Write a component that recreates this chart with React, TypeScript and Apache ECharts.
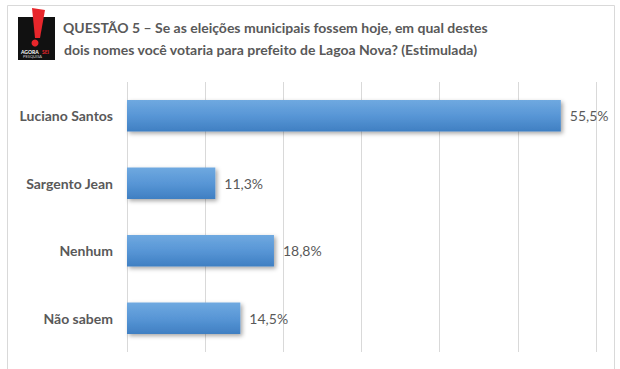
import React, { useEffect, useRef } from "react";
import * as echarts from "echarts";

const categories = ["Luciano Santos", "Sargento Jean", "Nenhum", "Não sabem"];
const values = [55.5, 11.3, 18.8, 14.5];
const valueLabels = ["55,5%", "11,3%", "18,8%", "14,5%"];
const titleLines = [
  "QUESTÃO 5 – Se as eleições municipais fossem hoje, em qual destes",
  "dois nomes você votaria para prefeito de Lagoa Nova? (Estimulada)",
];

export default function App() {
  const ref = useRef<HTMLDivElement>(null);
  useEffect(() => {
    const chart = echarts.init(ref.current!, null, { renderer: "svg" });
    const font = "Lato, 'Open Sans', sans-serif";
    chart.setOption({
      animation: false,
      backgroundColor: "#ffffff",
      grid: { left: 127, right: 24, top: 82, bottom: 17, containLabel: false },
      xAxis: {
        type: "value",
        min: 0,
        max: 60,
        interval: 10,
        axisLabel: { show: false },
        axisLine: { show: false },
        axisTick: { show: false },
        splitLine: { show: true, lineStyle: { color: "#d9d9d9", width: 1 } },
      },
      yAxis: {
        type: "category",
        inverse: true,
        data: categories,
        axisLine: { show: false },
        axisTick: { show: false },
        axisLabel: {
          color: "#595959",
          fontWeight: "bold",
          fontSize: 14,
          fontFamily: font,
          margin: 14,
        },
      },
      series: [
        {
          type: "bar",
          data: values,
          barWidth: "47%",
          itemStyle: {
            color: new echarts.graphic.LinearGradient(0, 0, 0, 1, [
              { offset: 0, color: "#6fa9e0" },
              { offset: 0.5, color: "#5896d6" },
              { offset: 1, color: "#3f7fc2" },
            ]),
            shadowColor: "rgba(0,0,0,0.35)",
            shadowBlur: 4,
            shadowOffsetX: 2,
            shadowOffsetY: 2,
          },
          label: {
            show: true,
            position: "right",
            distance: 9,
            color: "#595959",
            fontSize: 14,
            fontFamily: font,
            formatter: (p: any) => valueLabels[p.dataIndex],
          },
        },
      ],
      graphic: [
        {
          type: "rect",
          shape: { x: 7.5, y: 5.5, width: 607, height: 400 },
          style: { fill: "none", stroke: "#d9d9d9", lineWidth: 1 },
          silent: true,
        },
        {
          type: "rect",
          shape: { x: 18, y: 17, width: 37, height: 43 },
          style: { fill: "#111111" },
        },
        {
          type: "polygon",
          shape: { points: [[32, 8], [45, 10], [40, 38], [35, 38]] },
          style: { fill: "#e8262b" },
        },
        {
          type: "circle",
          shape: { cx: 35, cy: 43, r: 3.5 },
          style: { fill: "#e8262b" },
        },
        {
          type: "text",
          style: { text: "AGORA", x: 21, y: 49, fill: "#ffffff", fontSize: 5, fontWeight: "bold", fontFamily: font },
        },
        {
          type: "text",
          style: { text: "SEI", x: 42, y: 49, fill: "#e8262b", fontSize: 5, fontWeight: "bold", fontFamily: font },
        },
        {
          type: "text",
          style: { text: "PESQUISA", x: 23, y: 54, fill: "#cccccc", fontSize: 4, fontFamily: font },
        },
        {
          type: "text",
          style: {
            text: titleLines[0],
            x: 63,
            y: 20,
            fill: "#595959",
            fontSize: 14,
            fontWeight: "bold",
            fontFamily: font,
          },
        },
        {
          type: "text",
          style: {
            text: titleLines[1],
            x: 64,
            y: 42,
            fill: "#595959",
            fontSize: 14,
            fontWeight: "bold",
            fontFamily: font,
          },
        },
      ],
    });
    return () => chart.dispose();
  }, []);
  return <div ref={ref} style={{ width: 620, height: 369, position: "absolute", left: 0, top: 0 }} />;
}
